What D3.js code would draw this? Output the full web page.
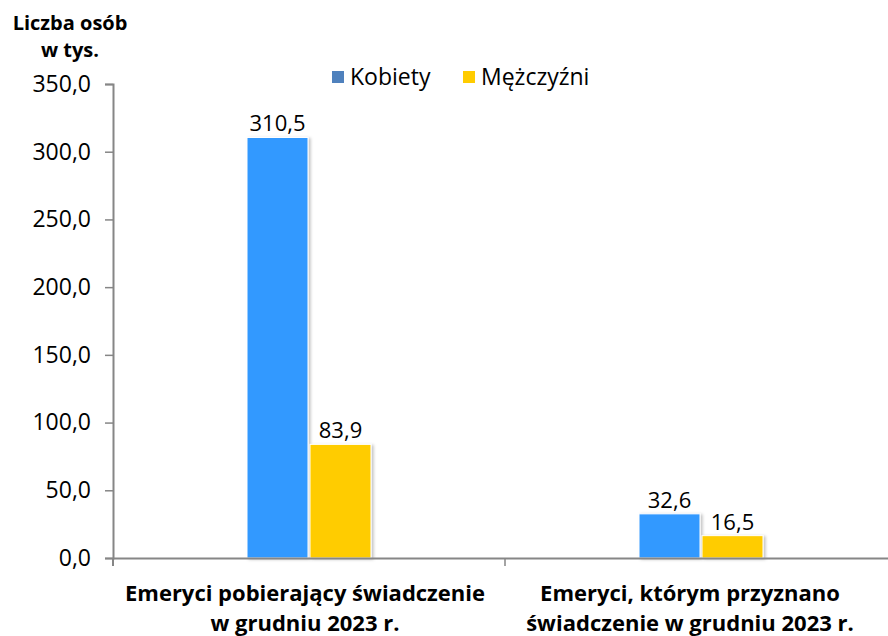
<!DOCTYPE html>
<html>
<head>
<meta charset="utf-8">
<script src="https://cdn.jsdelivr.net/npm/d3@7"></script>
<style>
  body { margin: 0; background: #fff; }
  text { font-family: "Open Sans", "Noto Sans", sans-serif; }
</style>
</head>
<body>
<svg id="chart" width="888" height="636"></svg>
<script>
// data
const categories = [
  ["Emeryci pobierający świadczenie", "w grudniu 2023 r."],
  ["Emeryci, którym przyznano", "świadczenie w grudniu 2023 r."]
];
const seriesNames = ["Kobiety", "Mężczyźni"];
const kobiety = [310.5, 32.6];
const mezczyzni = [83.9, 16.5];
const yTicks = [0, 50, 100, 150, 200, 250, 300, 350];
const titleLines = ["Liczba osób", "w tys."];

const barColors = ["#3399ff", "#ffcc00"];
const legendColors = ["#4f81bd", "#ffcc00"];

const fmt = v => d3.format(".1f")(v).replace(".", ",");

const svg = d3.select("svg#chart");
const margin = {top: 84, left: 113, bottom: 78};
const plotW = 784;
const plotH = 636 - margin.top - margin.bottom;

const x = d3.scaleBand().domain([0, 1]).range([margin.left, margin.left + plotW]);
const x1 = d3.scaleBand().domain([0, 1]).range([0, 126]);
const y = d3.scaleLinear().domain([0, 350]).range([margin.top + plotH, margin.top]);

// shadow for bars
const defs = svg.append("defs");
const f = defs.append("filter").attr("id", "shadow").attr("x", "-20%").attr("y", "-20%")
  .attr("width", "150%").attr("height", "150%");
f.append("feDropShadow").attr("dx", 2).attr("dy", 1).attr("stdDeviation", 1.5)
  .attr("flood-color", "#000").attr("flood-opacity", 0.25);

// one row per category
const rows = [0, 1].map(i => ({i: i, values: [kobiety[i], mezczyzni[i]]}));

// y axis
svg.append("g")
  .attr("transform", "translate(" + margin.left + ",0)")
  .call(d3.axisLeft(y).tickValues(yTicks).tickFormat(fmt).tickSize(8).tickPadding(14))
  .call(g => g.select(".domain").attr("stroke", "#868686").attr("stroke-width", 2))
  .call(g => g.selectAll(".tick line").attr("stroke", "#868686").attr("stroke-width", 1.5))
  .call(g => g.selectAll(".tick text").attr("font-size", 23).attr("fill", "#000")
    .style("font-family", "'Open Sans', sans-serif"));

// bars
const groups = svg.append("g").selectAll("g").data(rows).enter().append("g")
  .attr("transform", d => "translate(" + (x(d.i) + x.bandwidth() / 2 - 63) + ",0)");

groups.selectAll("rect").data(d => d.values).enter().append("rect")
  .attr("x", (d, j) => x1(j) + 1)
  .attr("width", x1.bandwidth() - 2)
  .attr("y", d => y(d))
  .attr("height", d => y(0) - y(d))
  .attr("fill", (d, j) => barColors[j])
  .attr("stroke", "#fff")
  .attr("stroke-width", 1)
  .attr("filter", "url(#shadow)");

groups.selectAll("text").data(d => d.values).enter().append("text")
  .attr("x", (d, j) => x1(j) + x1.bandwidth() / 2)
  .attr("y", d => y(d) - 6)
  .attr("text-anchor", "middle")
  .attr("font-size", 22)
  .attr("fill", "#000")
  .text(fmt);

// x axis
svg.append("g")
  .attr("transform", "translate(0," + y(0) + ")")
  .call(d3.axisBottom(x).tickValues([]).tickSizeOuter(0))
  .call(g => g.select(".domain").attr("stroke", "#868686").attr("stroke-width", 2));
svg.append("line")
  .attr("x1", x(1)).attr("x2", x(1))
  .attr("y1", y(0)).attr("y2", y(0) + 8)
  .attr("stroke", "#868686").attr("stroke-width", 1.5);
svg.append("line")
  .attr("x1", margin.left).attr("x2", margin.left)
  .attr("y1", y(0)).attr("y2", y(0) + 8)
  .attr("stroke", "#868686").attr("stroke-width", 2);

// category labels
const catCenters = [305, 690];
categories.forEach((lines, i) => {
  const t = svg.append("text")
    .attr("text-anchor", "middle")
    .attr("font-size", 22)
    .attr("font-weight", "bold")
    .attr("fill", "#000");
  lines.forEach((l, k) => {
    t.append("tspan").attr("x", catCenters[i]).attr("y", 601 + k * 30).text(l);
  });
});

// y title, two separate lines
svg.selectAll("text.ytitle").data(titleLines).enter().append("text")
  .attr("class", "ytitle")
  .attr("x", 70).attr("y", (d, i) => 30 + i * 27)
  .attr("text-anchor", "middle")
  .attr("font-size", 20).attr("font-weight", "bold").attr("fill", "#000")
  .text(d => d);

// legend
const legendX = [332, 463];
const lg = svg.append("g").selectAll("g").data(seriesNames).enter().append("g")
  .attr("transform", (d, i) => "translate(" + legendX[i] + ",71)");
lg.append("rect").attr("width", 12).attr("height", 12)
  .attr("fill", (d, i) => legendColors[i]);
lg.append("text").attr("x", 18).attr("y", 14)
  .attr("font-size", 23).attr("fill", "#000").text(d => d);
</script>
</body>
</html>
